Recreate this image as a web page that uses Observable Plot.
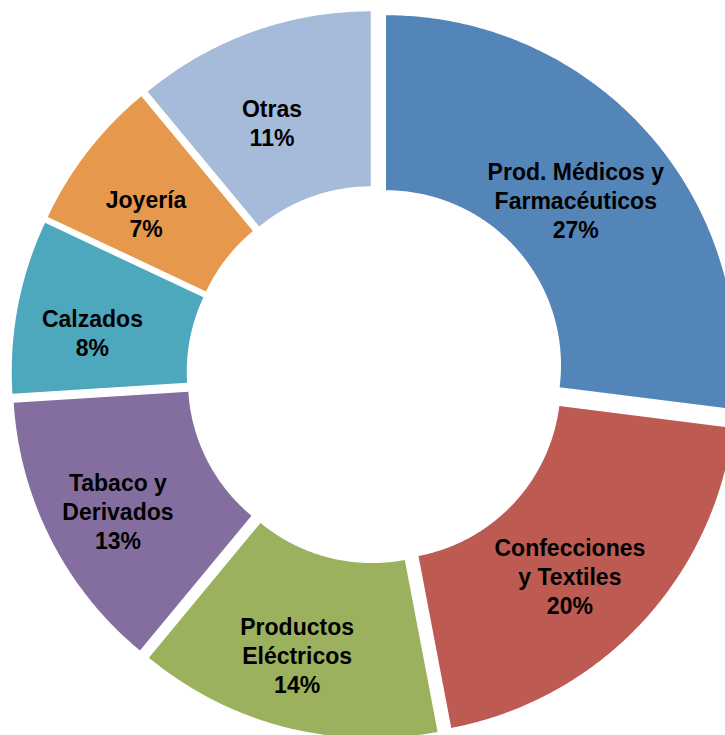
<!DOCTYPE html>
<html>
<head>
<meta charset="utf-8">
<script src="https://cdn.jsdelivr.net/npm/d3@7"></script>
<script src="https://cdn.jsdelivr.net/npm/@observablehq/plot@0.6"></script>
<style>
  html, body { margin: 0; padding: 0; background: #fff; overflow: hidden; }
  svg { display: block; }
</style>
</head>
<body>
<div id="chart"></div>
<script>
// ---- data ----
const categories = ["Prod. Médicos y Farmacéuticos", "Confecciones y Textiles", "Productos Eléctricos", "Tabaco y Derivados", "Calzados", "Joyería", "Otras"];
const labelLines = ["Prod. Médicos y\nFarmacéuticos", "Confecciones\ny Textiles", "Productos\nEléctricos", "Tabaco y\nDerivados", "Calzados", "Joyería", "Otras"];
const shares = [27, 20, 14, 13, 8, 7, 11];
const colors = ["#5485B8", "#BD5A52", "#9CB15E", "#846E9F", "#4EA8BD", "#E6984D", "#A6BAD9"];

// ---- geometry (derived from data) ----
const R = 350, r = 175, explode = 14, labelR = 279, labelDx = -9, labelDy = -10;
const total = d3.sum(shares);
const toRad = Math.PI / 180;
let acc = 0;
const slices = shares.map((v, i) => {
  const a0 = acc / total * 360;
  acc += v;
  const a1 = acc / total * 360;
  return {cat: categories[i], label: labelLines[i] + "\n" + v + "%", a0, a1, mid: (a0 + a1) / 2};
});

const pts = [];
for (const s of slices) {
  const ox = explode * Math.sin(s.mid * toRad), oy = explode * Math.cos(s.mid * toRad);
  const n = Math.max(8, Math.ceil((s.a1 - s.a0) / 0.5));
  for (let k = 0; k <= n; k++) {
    const a = (s.a0 + (s.a1 - s.a0) * k / n) * toRad;
    pts.push({cat: s.cat, x: ox + R * Math.sin(a), y: oy + R * Math.cos(a)});
  }
  for (let k = n; k >= 0; k--) {
    const a = (s.a0 + (s.a1 - s.a0) * k / n) * toRad;
    pts.push({cat: s.cat, x: ox + r * Math.sin(a), y: oy + r * Math.cos(a)});
  }
}
const labels = slices.map(s => ({
  label: s.label,
  x: labelR * Math.sin(s.mid * toRad) + labelDx,
  y: labelR * Math.cos(s.mid * toRad) + labelDy
}));

const chart = Plot.plot({
  width: 725,
  height: 735,
  margin: 0,
  style: {fontFamily: "'Liberation Sans', Arial, Helvetica, sans-serif", background: "#fff"},
  x: {domain: [-375, 350], axis: null},
  y: {domain: [-361, 374], axis: null},
  color: {domain: categories, range: colors},
  marks: [
    Plot.line(pts, {x: "x", y: "y", z: "cat", fill: "cat", stroke: "none", curve: "linear-closed"}),
    Plot.text(labels, {x: "x", y: "y", text: "label", fontSize: 23, fontWeight: "bold", fill: "#000", lineHeight: 1.26, textAnchor: "middle"})
  ]
});
document.getElementById("chart").appendChild(chart);
</script>
</body>
</html>
